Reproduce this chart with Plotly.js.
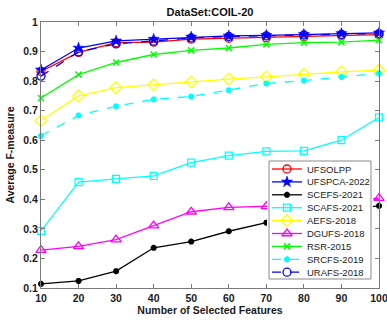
<!DOCTYPE html>
<html>
<head>
<meta charset="utf-8">
<script src="https://cdn.plot.ly/plotly-3.0.1.min.js"></script>
<style>html,body{margin:0;padding:0;background:#fff;overflow:hidden;}#chart{width:387px;height:324px;}</style>
</head>
<body>
<div id="chart"></div>
<script>
// ---- data ----
const features = [10, 20, 30, 40, 50, 60, 70, 80, 90, 100];
const seriesNames = ["UFSOLPP", "UFSPCA-2022", "SCEFS-2021", "SCAFS-2021", "AEFS-2018", "DGUFS-2018", "RSR-2015", "SRCFS-2019", "URAFS-2018"];
const UFSOLPP = [0.833, 0.897, 0.930, 0.932, 0.942, 0.945, 0.947, 0.950, 0.955, 0.957];
const UFSPCA  = [0.838, 0.912, 0.936, 0.942, 0.949, 0.953, 0.955, 0.958, 0.961, 0.963];
const SCEFS   = [0.114, 0.124, 0.157, 0.236, 0.257, 0.292, 0.321, 0.345, 0.365, 0.378];
const SCAFS   = [0.293, 0.458, 0.469, 0.479, 0.524, 0.548, 0.562, 0.564, 0.600, 0.677];
const AEFS    = [0.667, 0.750, 0.778, 0.788, 0.797, 0.807, 0.814, 0.823, 0.831, 0.837];
const DGUFS   = [0.228, 0.241, 0.264, 0.311, 0.358, 0.373, 0.376, 0.380, 0.390, 0.404];
const RSR     = [0.743, 0.822, 0.863, 0.890, 0.904, 0.912, 0.924, 0.930, 0.932, 0.939];
const SRCFS   = [0.615, 0.684, 0.715, 0.738, 0.748, 0.769, 0.792, 0.802, 0.814, 0.826];
const URAFS   = [0.817, 0.899, 0.926, 0.935, 0.946, 0.951, 0.953, 0.956, 0.958, 0.961];
const seriesValues = [UFSOLPP, UFSPCA, SCEFS, SCAFS, AEFS, DGUFS, RSR, SRCFS, URAFS];
const yTicks = [0.1, 0.2, 0.3, 0.4, 0.5, 0.6, 0.7, 0.8, 0.9, 1];
const yTickText = ["0.1", "0.2", "0.3", "0.4", "0.5", "0.6", "0.7", "0.8", "0.9", "1"];

// ---- styles ----
const styles = [
  {color: "#ff0000", dash: "solid", symbol: "circle-open", size: 8, mlw: 1.3},
  {color: "#0000ff", dash: "solid", symbol: "star", size: 8.5, mlw: 0.5},
  {color: "#000000", dash: "solid", symbol: "asterisk-open", size: 5, mlw: 2},
  {color: "#00ffff", dash: "solid", symbol: "square-open", size: 7, mlw: 1.2},
  {color: "#ffff00", dash: "solid", symbol: "diamond-open", size: 9, mlw: 1.3},
  {color: "#ff00ff", dash: "solid", symbol: "triangle-up-open", size: 9, mlw: 1.3},
  {color: "#00ff00", dash: "solid", symbol: "x-thin-open", size: 6, mlw: 1.5},
  {color: "#00ffff", dash: "dash", symbol: "asterisk-open", size: 5, mlw: 2},
  {color: "#0000ff", dash: "dash", symbol: "circle-open", size: 8, mlw: 1.3}
];

const FONT = "Arial, 'Liberation Sans', Helvetica, sans-serif";
const W = 387, H = 324;
const M = {l: 41, r: 8, t: 22, b: 36};
const plotW = W - M.l - M.r, plotH = H - M.t - M.b;

// legend box in page pixels
const LEG = {x0: 269, x1: 371, y0: 161, y1: 279};
const legW = LEG.x1 - LEG.x0, legH = LEG.y1 - LEG.y0;
const PAD = 2;

const traces = [];
seriesNames.forEach((name, i) => {
  const s = styles[i];
  traces.push({
    x: features, y: seriesValues[i], name: name, type: "scatter", mode: "lines+markers",
    line: {color: s.color, width: 1.3, dash: s.dash},
    marker: {symbol: s.symbol, size: s.size, color: s.color, line: {color: s.color, width: s.mlw}},
    cliponaxis: false, showlegend: false, xaxis: "x", yaxis: "y"
  });
});

// custom compact legend drawn on its own small subplot (1 unit = 1 px)
traces.push({
  x: [0, legW, legW, 0, 0], y: [0, 0, legH, legH, 0], type: "scatter", mode: "lines",
  fill: "toself", fillcolor: "#ffffff", line: {color: "#8a8a8a", width: 1},
  xaxis: "x2", yaxis: "y2", showlegend: false, hoverinfo: "skip", cliponaxis: false
});
const annotations = [];
const firstY = 8, step = 12.9;
seriesNames.forEach((name, i) => {
  const s = styles[i];
  const yy = legH - (firstY + step * i);
  traces.push({
    x: [3, 33], y: [yy, yy], type: "scatter", mode: "lines", xaxis: "x2", yaxis: "y2",
    line: {color: s.color, width: 1.3, dash: s.dash}, showlegend: false, hoverinfo: "skip"
  });
  traces.push({
    x: [18], y: [yy], type: "scatter", mode: "markers", xaxis: "x2", yaxis: "y2",
    marker: {symbol: s.symbol, size: s.size, color: s.color, line: {color: s.color, width: s.mlw}},
    showlegend: false, hoverinfo: "skip"
  });
  annotations.push({
    x: 36, y: yy, xref: "x2", yref: "y2", text: name, showarrow: false,
    xanchor: "left", yanchor: "middle", font: {family: FONT, size: 9.5, color: "#222"}
  });
});

const axisCommon = {
  showgrid: false, zeroline: false, showline: true, linecolor: "#7a7a7a", linewidth: 1,
  mirror: "ticks", ticks: "inside", ticklen: 4, tickcolor: "#7a7a7a", tickwidth: 1,
  tickfont: {family: FONT, size: 10.5, color: "#1a1a1a", weight: "bold"}
};

const layout = {
  width: W, height: H,
  margin: M,
  paper_bgcolor: "#ffffff", plot_bgcolor: "#ffffff",
  showlegend: false,
  title: {text: "<b>DataSet:COIL-20</b>", font: {family: FONT, size: 11, color: "#111"},
          x: 0.5, xref: "paper", y: 1 - 12 / H, yref: "container", yanchor: "middle"},
  xaxis: Object.assign({}, axisCommon, {
    range: [10, 100], tickvals: features, ticktext: features.map(String),
    ticklabeloverflow: "allow",
    title: {text: "<b>Number of Selected Features</b>", font: {family: FONT, size: 10.5, color: "#1a1a1a"}, standoff: 4}
  }),
  yaxis: Object.assign({}, axisCommon, {
    range: [0.1, 1], tickvals: yTicks, ticktext: yTickText,
    title: {text: "<b>Average F-measure</b>", font: {family: FONT, size: 10.5, color: "#1a1a1a"}, standoff: 6}
  }),
  xaxis2: {
    domain: [(LEG.x0 - PAD - M.l) / plotW, (LEG.x1 + PAD - M.l) / plotW],
    range: [-PAD, legW + PAD], anchor: "y2", visible: false, fixedrange: true
  },
  yaxis2: {
    domain: [(H - M.b - LEG.y1 - PAD) / plotH, (H - M.b - LEG.y0 + PAD) / plotH],
    range: [-PAD, legH + PAD], anchor: "x2", visible: false, fixedrange: true
  },
  annotations: annotations
};

Plotly.newPlot("chart", traces, layout, {staticPlot: true, displayModeBar: false});
</script>
</body>
</html>
